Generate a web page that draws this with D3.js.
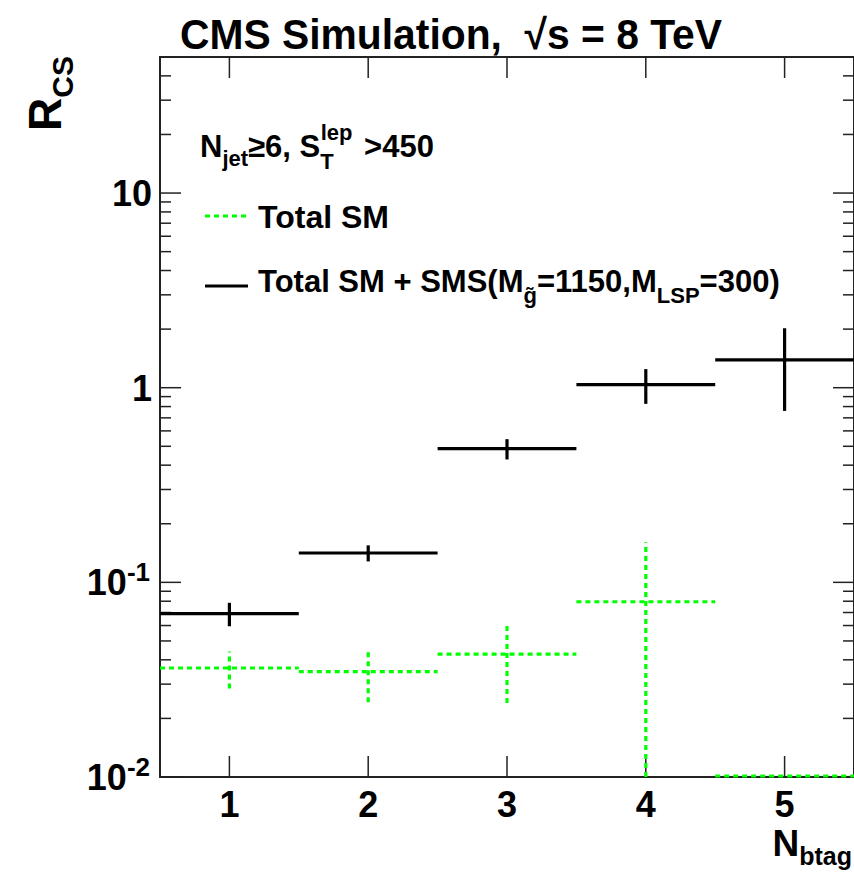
<!DOCTYPE html>
<html>
<head>
<meta charset="utf-8">
<script src="https://cdn.jsdelivr.net/npm/d3@7"></script>
<style>
  html, body { margin: 0; padding: 0; background: #fff; }
  svg { display: block; font-family: "Liberation Sans", Arial, Helvetica, sans-serif; font-weight: bold; }
  text { white-space: pre; }
</style>
</head>
<body>
<svg id="chart" width="854" height="875"></svg>
<script>
// N_btag bins (bin centres) and tick labels
const nbtag = [1, 2, 3, 4, 5];
const xTickLabels = ["1", "2", "3", "4", "5"];

// R_CS for Total SM (green, dotted); 0 means empty bin
const smValues = [0.0363, 0.0348, 0.0428, 0.0795, 0];
const smErrors = [0.0078, 0.0106, 0.0188, 0.081, 0];

// R_CS for Total SM + SMS(M_gluino=1150, M_LSP=300) (black, solid)
const sigValues = [0.069, 0.1415, 0.486, 1.036, 1.39];
const sigErrors = [0.0095, 0.0134, 0.058, 0.21, 0.63];

// y axis decades and their labels (mantissa, exponent)
const yMajor = [0.01, 0.1, 1, 10];
const yMajorLabels = [["10", "-2"], ["10", "-1"], ["1", ""], ["10", ""]];

const yMin = 0.01, yMax = 50;
const frame = { left: 160, right: 854, top: 57, bottom: 777 };
const green = "#00ff00";

const svg = d3.select("#chart");

const x = d3.scaleLinear().domain([0.5, 5.5]).range([frame.left, frame.right]);
const y = d3.scaleLog().domain([yMin, yMax]).range([frame.bottom, frame.top]).clamp(true);
const yc = v => y(Math.max(v, yMin));

// minor ticks on the log axis
const yMinor = [];
yMajor.forEach(d => {
  for (let k = 2; k <= 9; k++) {
    const v = d * k;
    if (v < yMax * 1.0001) yMinor.push(v);
  }
});

const tickMaj = 21, tickMin = 11;

// frame
svg.append("rect")
  .attr("x", frame.left).attr("y", frame.top)
  .attr("width", frame.right - frame.left).attr("height", frame.bottom - frame.top)
  .attr("fill", "none").attr("stroke", "#222").attr("stroke-width", 2);

const ticks = svg.append("g").attr("stroke", "#222").attr("stroke-width", 1.5);
// x ticks bottom and top
nbtag.forEach(v => {
  ticks.append("line").attr("x1", x(v)).attr("x2", x(v)).attr("y1", frame.bottom).attr("y2", frame.bottom - tickMaj);
  ticks.append("line").attr("x1", x(v)).attr("x2", x(v)).attr("y1", frame.top).attr("y2", frame.top + tickMaj);
});
// y ticks left and right
yMajor.forEach(v => {
  ticks.append("line").attr("x1", frame.left).attr("x2", frame.left + tickMaj).attr("y1", y(v)).attr("y2", y(v));
  ticks.append("line").attr("x1", frame.right).attr("x2", frame.right - tickMaj).attr("y1", y(v)).attr("y2", y(v));
});
yMinor.forEach(v => {
  ticks.append("line").attr("x1", frame.left).attr("x2", frame.left + tickMin).attr("y1", y(v)).attr("y2", y(v));
  ticks.append("line").attr("x1", frame.right).attr("x2", frame.right - tickMin).attr("y1", y(v)).attr("y2", y(v));
});

// x tick labels
svg.append("g").selectAll("text").data(nbtag).join("text")
  .attr("x", d => x(d)).attr("y", 817)
  .attr("text-anchor", "middle").attr("font-size", 36)
  .text((d, i) => xTickLabels[i]);

// y tick labels
yMajor.forEach((v, i) => {
  const [m, e] = yMajorLabels[i];
  const t = svg.append("text")
    .attr("x", e ? 150 : 152).attr("y", y(v) + 13)
    .attr("text-anchor", "end").attr("font-size", 36);
  t.append("tspan").text(m);
  if (e) t.append("tspan").attr("dy", -14).attr("font-size", 26).text(e);
});

// axis titles
const xt = svg.append("text").attr("x", 852).attr("y", 856)
  .attr("text-anchor", "end").attr("font-size", 37);
xt.append("tspan").text("N");
xt.append("tspan").attr("dy", 9).attr("font-size", 25).text("btag");

const yt = svg.append("text").attr("transform", "translate(61,56) rotate(-90)")
  .attr("text-anchor", "end").attr("font-size", 46);
yt.append("tspan").text("R");
yt.append("tspan").attr("dy", 12).attr("font-size", 30).text("CS");

// title
svg.append("text").attr("x", 180).attr("y", 49).attr("font-size", 42)
  .attr("textLength", 542).attr("lengthAdjust", "spacingAndGlyphs")
  .text("CMS Simulation,  \u221As = 8 TeV");

// histogram-with-errors drawer
function drawSeries(values, errors, color, dashed) {
  const g = svg.append("g")
    .attr("stroke", color).attr("stroke-width", 3.2).attr("fill", "none");
  if (dashed) g.attr("stroke-dasharray", "5,4");
  values.forEach((v, i) => {
    const c = nbtag[i];
    const yv = v <= yMin ? frame.bottom - 1 : yc(v);
    g.append("line")
      .attr("x1", x(c - 0.5)).attr("x2", x(c + 0.5))
      .attr("y1", yv).attr("y2", yv);
    if (v > 0 && errors[i] > 0) {
      g.append("line")
        .attr("x1", x(c)).attr("x2", x(c))
        .attr("y1", yc(v - errors[i])).attr("y2", yc(v + errors[i]));
    }
  });
}
drawSeries(smValues, smErrors, green, true);
drawSeries(sigValues, sigErrors, "#000", false);

// legend
const lg = svg.append("g");
const t1 = lg.append("text").attr("x", 200).attr("y", 157).attr("font-size", 31);
t1.append("tspan").text("N");
t1.append("tspan").attr("dy", 9).attr("font-size", 22).text("jet");
t1.append("tspan").attr("dy", -9).text("\u22656, S");
t1.append("tspan").attr("dy", 12).attr("font-size", 22).text("T");
t1.append("tspan").attr("dx", -13).attr("dy", -29).attr("font-size", 22).text("lep");
t1.append("tspan").attr("dx", 3).attr("dy", 17).text(" >450");

lg.append("line").attr("x1", 205).attr("x2", 248).attr("y1", 216).attr("y2", 216)
  .attr("stroke", green).attr("stroke-width", 3.2).attr("stroke-dasharray", "5,4");
lg.append("text").attr("x", 258).attr("y", 228).attr("font-size", 32).text("Total SM");

lg.append("line").attr("x1", 205).attr("x2", 248).attr("y1", 286).attr("y2", 286)
  .attr("stroke", "#000").attr("stroke-width", 3.2);
const t3 = lg.append("text").attr("x", 258).attr("y", 292).attr("font-size", 31);
t3.append("tspan").text("Total SM + SMS(M");
t3.append("tspan").attr("dy", 11).attr("font-size", 22).text("g\u0303");
t3.append("tspan").attr("dy", -11).text("=1150,M");
t3.append("tspan").attr("dy", 11).attr("font-size", 22).text("LSP");
t3.append("tspan").attr("dy", -11).text("=300)");
</script>
</body>
</html>
